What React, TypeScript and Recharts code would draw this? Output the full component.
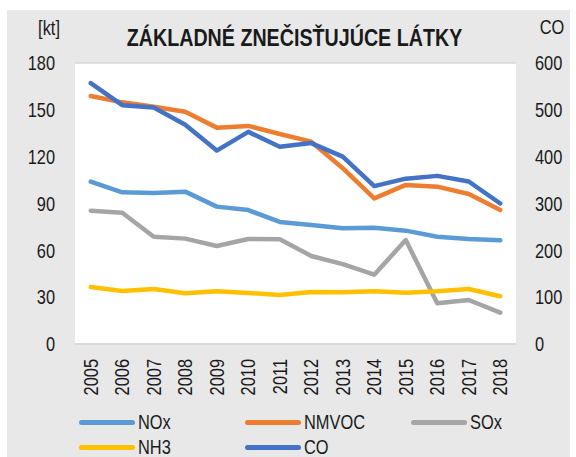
import { CartesianGrid, Line, LineChart, XAxis, YAxis } from "recharts";

const years = ["2005", "2006", "2007", "2008", "2009", "2010", "2011", "2012", "2013", "2014", "2015", "2016", "2017", "2018"];
const nox = [104.0, 97.2, 96.7, 97.6, 88.0, 85.8, 78.2, 76.2, 74.1, 74.5, 72.6, 68.7, 67.3, 66.4];
const nmvoc = [158.9, 154.8, 152.0, 148.8, 138.6, 139.7, 134.5, 129.6, 112.6, 93.3, 101.9, 100.8, 96.1, 85.8];
const sox = [85.4, 84.1, 68.7, 67.5, 62.8, 67.3, 67.1, 56.4, 51.2, 44.4, 66.6, 26.1, 28.2, 20.1];
const nh3 = [36.5, 33.9, 35.2, 32.5, 33.8, 32.7, 31.4, 33.3, 33.1, 33.8, 32.9, 33.8, 35.2, 30.6];
const co = [557, 510, 505, 468, 413, 453, 421, 429, 400, 337, 353, 359, 347, 300];

const leftTicks = [0, 30, 60, 90, 120, 150, 180];
const rightTicks = [0, 100, 200, 300, 400, 500, 600];

const series = [
  { key: "NOx", color: "#5B9BD5", axis: "left" },
  { key: "NMVOC", color: "#ED7D31", axis: "left" },
  { key: "SOx", color: "#A5A5A5", axis: "left" },
  { key: "NH3", color: "#FFC000", axis: "left" },
  { key: "CO", color: "#4472C4", axis: "right" },
];

const data = years.map((year, i) => ({
  year,
  NOx: nox[i],
  NMVOC: nmvoc[i],
  SOx: sox[i],
  NH3: nh3[i],
  CO: co[i],
}));

// no Arial Narrow here, so squeeze Liberation Sans horizontally
const font = "'Liberation Sans', Arial, sans-serif";
const squeeze = 0.82;
const textColor = "#1a1a1a";

function NarrowText({ x, y, anchor = "middle", size = 20, bold = false, children }: any) {
  return (
    <g transform={`translate(${x},${y}) scale(${squeeze},1)`}>
      <text
        x={0}
        y={0}
        dy="0.36em"
        textAnchor={anchor}
        fill={textColor}
        fontSize={size}
        fontWeight={bold ? "bold" : "normal"}
        fontFamily={font}
      >
        {children}
      </text>
    </g>
  );
}

function YearTick(props: any) {
  const { x, y, payload } = props;
  return (
    <g transform={`translate(${x},${y}) rotate(-90)`}>
      <g transform={`scale(${squeeze},1)`}>
        <text x={-15 / squeeze} y={0} dy="0.36em" textAnchor="end" fill={textColor} fontSize={20} fontFamily={font}>
          {payload.value}
        </text>
      </g>
    </g>
  );
}

function LeftTick(props: any) {
  return (
    <NarrowText x={props.x} y={props.y} anchor="end">
      {props.payload.value}
    </NarrowText>
  );
}

function RightTick(props: any) {
  return (
    <NarrowText x={props.x} y={props.y} anchor="start">
      {props.payload.value}
    </NarrowText>
  );
}

// legend positions in the container: two rows, three columns
const legendCols = [72, 238, 404];
const legendRows = [412, 437];

export default function App() {
  return (
    <div
      style={{
        position: "absolute",
        left: 7,
        top: 10,
        width: 563,
        height: 447,
        background: "#e8e8e8",
        fontFamily: font,
        overflow: "hidden",
      }}
    >
      <LineChart width={563} height={447} data={data} margin={{ top: 53, right: 0, bottom: 53, left: 0 }}>
        <NarrowText x={42} y={18}>
          [kt]
        </NarrowText>
        <NarrowText x={545} y={17}>
          CO
        </NarrowText>
        <NarrowText x={287.5} y={27} size={24} bold>
          ZÁKLADNÉ ZNEČISŤUJÚCE LÁTKY
        </NarrowText>
        <CartesianGrid vertical={false} fill="#ffffff" stroke="#d9d9d9" strokeWidth={1.5} />
        <XAxis
          dataKey="year"
          interval={0}
          padding={{ left: 15.75, right: 15.75 }}
          tickLine={false}
          axisLine={{ stroke: "#d9d9d9", strokeWidth: 1.5 }}
          tickSize={0}
          tickMargin={0}
          height={60}
          tick={<YearTick />}
        />
        <YAxis
          yAxisId="left"
          domain={[0, 180]}
          ticks={leftTicks}
          axisLine={false}
          tickLine={false}
          tickSize={0}
          tickMargin={20}
          width={68}
          tick={<LeftTick />}
        />
        <YAxis
          yAxisId="right"
          orientation="right"
          domain={[0, 600]}
          ticks={rightTicks}
          axisLine={false}
          tickLine={false}
          tickSize={0}
          tickMargin={19}
          width={54}
          tick={<RightTick />}
        />
        {series.map((s) => (
          <Line
            key={s.key}
            yAxisId={s.axis}
            dataKey={s.key}
            stroke={s.color}
            strokeWidth={4.5}
            strokeLinecap="round"
            strokeLinejoin="round"
            dot={false}
            activeDot={false}
            isAnimationActive={false}
          />
        ))}
      </LineChart>
      {series.map((s, i) => (
        <div
          key={s.key}
          style={{
            position: "absolute",
            left: legendCols[i % 3],
            top: legendRows[Math.floor(i / 3)] - 8,
            height: 16,
            display: "flex",
            alignItems: "center",
          }}
        >
          <div style={{ width: 56, height: 5, borderRadius: 3, background: s.color }} />
          <span
            style={{
              marginLeft: 3,
              fontSize: 20,
              lineHeight: "16px",
              color: textColor,
              display: "inline-block",
              transform: `scaleX(${squeeze})`,
              transformOrigin: "left center",
            }}
          >
            {s.key}
          </span>
        </div>
      ))}
    </div>
  );
}
